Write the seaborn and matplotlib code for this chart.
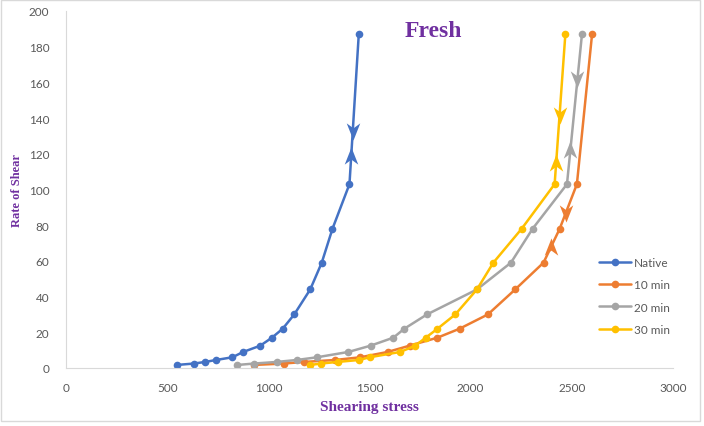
import numpy as np
import pandas as pd
import matplotlib.pyplot as plt
import seaborn as sns
from matplotlib.patches import Rectangle

# Rate of shear levels (same for every sample)
rate = [1.7, 2.5, 3.4, 4.5, 6, 9, 12.5, 17, 22, 30, 44, 59, 78, 103, 187]

# Shearing stress per sample
native = [547, 633, 688, 742, 822, 876, 960, 1018, 1071, 1128, 1207, 1264, 1317, 1401, 1447]
min10 = [927, 1075, 1178, 1330, 1454, 1590, 1698, 1836, 1945, 2085, 2220, 2360, 2440, 2525, 2600]
min20 = [847, 930, 1042, 1141, 1240, 1396, 1505, 1618, 1672, 1784, 2031, 2199, 2306, 2476, 2550]
min30 = [1207, 1260, 1342, 1449, 1500, 1652, 1726, 1778, 1836, 1924, 2031, 2112, 2252, 2415, 2468]

samples = ['Native', '10 min', '20 min', '30 min']
colors = ['#4472C4', '#ED7D31', '#A5A5A5', '#FFC000']

# rate levels where the direction arrows sit (up curve, down curve)
arrow_up = [119, 68, 122, 115]
arrow_down = [133, 87, 162, 142]

df = pd.concat([
    pd.DataFrame({'stress': s, 'rate': rate, 'sample': name})
    for s, name in zip([native, min10, min20, min30], samples)
])

sns.set_style('white')
plt.rcParams['font.family'] = ['Lato', 'DejaVu Sans']

fig = plt.figure(figsize=(7.04, 4.27), dpi=100)
ax = fig.add_axes([66 / 704, 1 - 369 / 427, (673 - 66) / 704, (369 - 12) / 427])

sns.lineplot(data=df, x='stress', y='rate', hue='sample', palette=colors,
             hue_order=samples, sort=False, estimator=None, marker='o',
             markersize=5.5, markeredgewidth=0, linewidth=1.8, ax=ax)

# dart-shaped arrow markers
dart_up = [(0, 1), (0.75, -0.9), (0, -0.35), (-0.75, -0.9), (0, 1)]
dart_down = [(x, -y) for x, y in dart_up]
for s, c, up, dn in zip([native, min10, min20, min30], colors, arrow_up, arrow_down):
    ax.plot(np.interp(up, rate, s), up, marker=dart_up, color=c, markersize=13,
            markeredgewidth=0, linestyle='none')
    ax.plot(np.interp(dn, rate, s), dn, marker=dart_down, color=c, markersize=13,
            markeredgewidth=0, linestyle='none')

ax.set_xlim(0, 3000)
ax.set_ylim(0, 200)
ax.set_xticks(range(0, 3001, 500))
ax.set_yticks(range(0, 201, 20))
ax.tick_params(axis='both', colors='#d9d9d9', labelcolor='#595959', labelsize=8.5,
               length=4, width=0.8, direction='out')
ax.tick_params(axis='y', pad=8)
ax.tick_params(axis='x', pad=6)
for side in ['top', 'right']:
    ax.spines[side].set_visible(False)
for side in ['left', 'bottom']:
    ax.spines[side].set_color('#d9d9d9')

purple = '#7030A0'
ax.set_xlabel('Shearing stress', family='Liberation Serif', fontweight='bold',
              color=purple, fontsize=11, labelpad=5)
ax.set_ylabel('Rate of Shear', family='Liberation Serif', fontweight='bold',
              color=purple, fontsize=9, labelpad=4)
ax.text(0.605, 0.944, 'Fresh', transform=ax.transAxes, ha='center', va='center',
        family='Liberation Serif', fontweight='bold', color=purple, fontsize=17)

leg = ax.legend(loc='center left', bbox_to_anchor=(588 / 704, 1 - 297 / 427),
                bbox_transform=fig.transFigure, frameon=False, fontsize=8.5,
                labelcolor='#595959', handlelength=2.7, labelspacing=0.95,
                handletextpad=0.3)

fig.patches.append(Rectangle((0.002, 0.012), 0.993, 0.985, transform=fig.transFigure,
                             fill=False, edgecolor='#d9d9d9', linewidth=1))

fig.savefig('out.png', dpi=100)
